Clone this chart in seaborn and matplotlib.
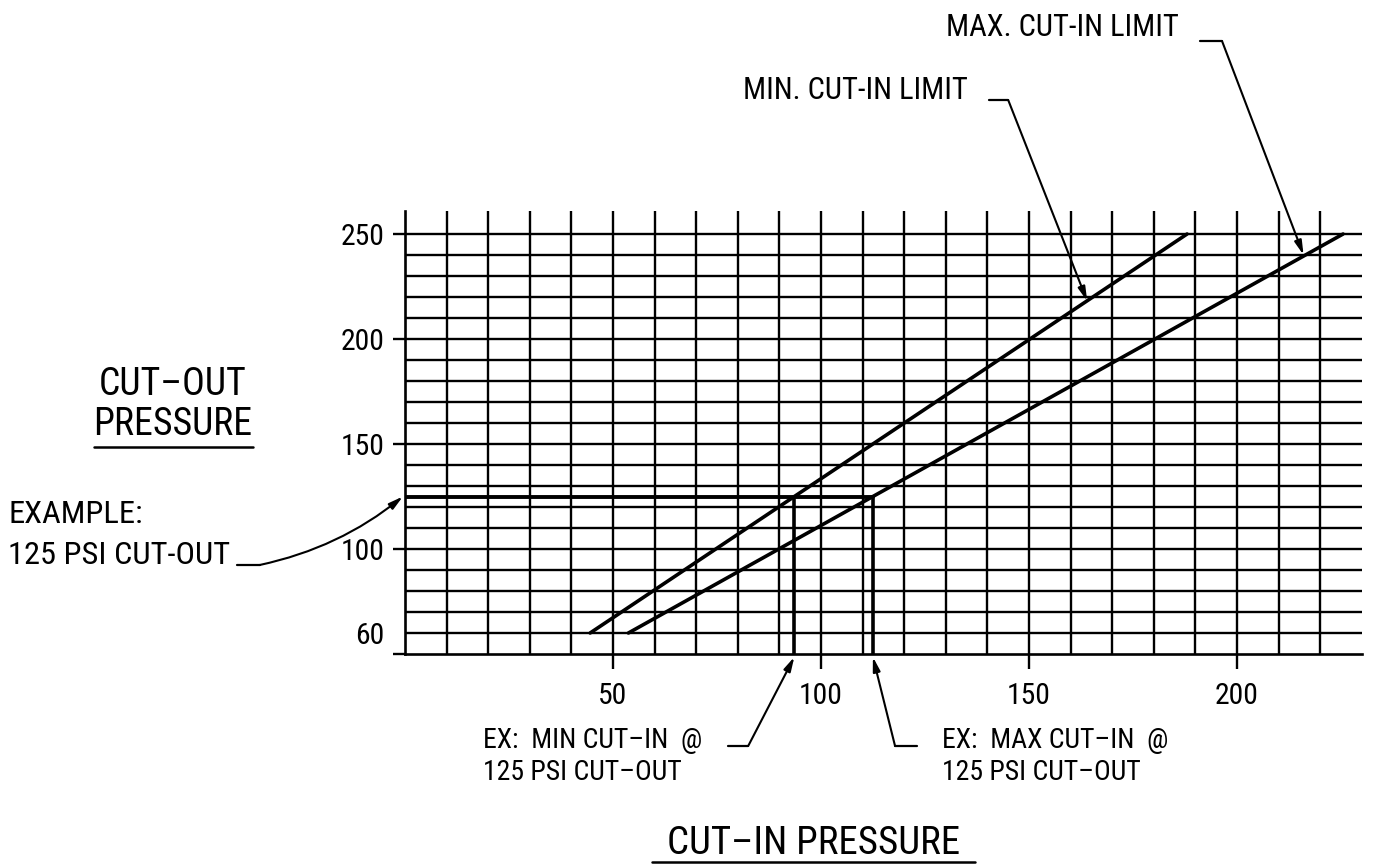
import matplotlib
matplotlib.use("Agg")
import matplotlib.pyplot as plt
import matplotlib.font_manager as fm
import seaborn as sns
import pandas as pd
import numpy as np

# ---- data ----
cutout_psi = [60, 250]                 # cut-out pressure at the ends of each limit line
min_cutin_psi = [44.5, 188.0]          # MIN. CUT-IN LIMIT line
max_cutin_psi = [53.7, 225.5]          # MAX. CUT-IN LIMIT line
example_cutout = 125                   # example cut-out pressure
x_tick_values = [50, 100, 150, 200]
y_tick_values = [50, 100, 150, 200, 250]
y_tick_labels = ["", "100", "150", "200", "250"]
y_extra_tick = [60]
grid_x = list(range(10, 230, 10))
grid_y = list(range(60, 260, 10))

sns.set_theme(style="white")

# pick a narrow sans font if one is installed
available = {f.name for f in fm.fontManager.ttflist}
condensed_names = [f.name for f in fm.fontManager.ttflist
                   if str(f.stretch) in ("condensed", "semi-condensed", "extra-condensed")
                   or (isinstance(f.stretch, (int, float)) and f.stretch < 500)]
preferred = ["Liberation Sans Narrow", "Roboto Condensed", "Noto Sans Condensed",
             "Open Sans Condensed", "DejaVu Sans Condensed"]
font = next((n for n in preferred if n in available), None)
stretch = "normal"
if font is None:
    for cand in ["DejaVu Sans", "Noto Sans", "Roboto", "Open Sans", "Liberation Sans"]:
        if cand in condensed_names:
            font, stretch = cand, "condensed"
            break
if font is None:
    font = "Liberation Sans" if "Liberation Sans" in available else "DejaVu Sans"
plt.rcParams['font.family'] = [font, 'DejaVu Sans']
plt.rcParams['font.stretch'] = stretch
plt.rcParams['axes.unicode_minus'] = False

fig = plt.figure(figsize=(13.74, 8.67), dpi=100)
fig.patch.set_facecolor("white")
ax = fig.add_axes([0.29476, 0.24567, 0.69636, 0.51107])
ax.set_facecolor("white")
ax.set_xlim(0, 230)
ax.set_ylim(50, 261)
renderer = fig.canvas.get_renderer()

def fit(texts, target_px, max_pt):
    w = texts[0].get_window_extent(renderer).width
    fs = min(texts[0].get_fontsize() * target_px / w, max_pt)
    for t in texts:
        t.set_fontsize(fs)
    return fs

LW = 1.7
# grid
ax.vlines(grid_x, 50, 261, color="black", lw=LW, clip_on=False, zorder=1)
ax.hlines(grid_y, 0, 230, color="black", lw=LW, clip_on=False, zorder=1)

for s in ["top", "right"]:
    ax.spines[s].set_visible(False)
for s in ["left", "bottom"]:
    ax.spines[s].set_color("black")
    ax.spines[s].set_linewidth(LW + 0.2)

# limit lines via seaborn
df = pd.DataFrame({
    "cut_in": min_cutin_psi + max_cutin_psi,
    "cut_out": cutout_psi + cutout_psi,
    "limit": ["MIN"] * len(cutout_psi) + ["MAX"] * len(cutout_psi),
})
sns.lineplot(data=df, x="cut_in", y="cut_out", hue="limit",
             palette=["black", "black"], lw=2.6, legend=False, ax=ax,
             sort=False, zorder=3)
ax.set_xlabel("")
ax.set_ylabel("")

# example construction
ex_min = np.interp(example_cutout, cutout_psi, min_cutin_psi)
ex_max = np.interp(example_cutout, cutout_psi, max_cutin_psi)
ax.plot([0, ex_max], [example_cutout, example_cutout], color="black", lw=2.8, zorder=3)
ax.plot([ex_min, ex_min], [example_cutout, 50], color="black", lw=2.6, zorder=3)
ax.plot([ex_max, ex_max], [example_cutout, 50], color="black", lw=2.6, zorder=3)

# tick label size: fit "250" to its width in the reference
probe = fig.text(0, 0, "250", fontsize=20)
tick_fs = fit([probe], 44, 23)
probe.remove()

ax.set_xticks(x_tick_values)
ax.set_xticklabels([str(v) for v in x_tick_values])
ax.set_yticks(y_tick_values)
ax.set_yticklabels(y_tick_labels)
ax.set_yticks(y_extra_tick, minor=True)
ax.set_yticklabels([str(v) for v in y_extra_tick], minor=True)
ax.tick_params(axis="x", bottom=True, direction="out", length=11, width=LW,
               color="black", pad=9, labelsize=tick_fs, labelcolor="black")
ax.tick_params(axis="y", which="major", left=True, direction="out", length=9, width=LW,
               color="black", pad=6, labelsize=tick_fs, labelcolor="black")
ax.tick_params(axis="y", which="minor", left=True, length=0, pad=15,
               labelsize=tick_fs, labelcolor="black")

arrow = dict(arrowstyle="-|>,head_length=0.7,head_width=0.18", color="black",
             lw=1.5, shrinkA=0, shrinkB=0)

def txt(x, y, s, ha="left"):
    return ax.text(x, y, s, ha=ha, va="center", fontsize=20, color="black", clip_on=False)

def leader(h0, h1, hy, tip, rad=0.0):
    ax.plot([h0, h1], [hy, hy], color="black", lw=1.6, clip_on=False)
    start = (h1, hy) if abs(h1 - tip[0]) < abs(h0 - tip[0]) else (h0, hy)
    ax.annotate("", xy=tip, xytext=start,
                arrowprops=dict(arrow, connectionstyle=f"arc3,rad={rad}"),
                annotation_clip=False)

# top labels
fit([txt(186.1, 348.1, "MAX. CUT-IN LIMIT", "right")], 246, 22)
leader(191.1, 196.4, 341.9, (216, 240))
fit([txt(135.3, 318.1, "MIN. CUT-IN LIMIT", "right")], 232, 22)
leader(140.4, 145.0, 313.8, (164, 218))

# left labels
t1 = txt(-55.8, 178.1, "CUT\u2013OUT", "center")
t2 = txt(-55.8, 159.5, "PRESSURE", "center")
fit([t2, t1], 159, 33)
ax.plot([-74.8, -36.5], [148.6, 148.6], color="black", lw=1.8, clip_on=False)

t3 = txt(-95.4, 116.2, "EXAMPLE:")
t4 = txt(-95.4, 96.7, "125 PSI CUT-OUT")
fit([t4, t3], 222, 25)
leader(-40.4, -34.9, 92.4, (-0.5, 125), rad=0.12)

# bottom labels
b1 = txt(18.75, 8.6, "EX:  MIN CUT\u2013IN  @")
b2 = txt(18.75, -6.2, "125 PSI CUT\u2013OUT")
b3 = txt(129.1, 8.6, "EX:  MAX CUT\u2013IN  @")
b4 = txt(129.1, -6.2, "125 PSI CUT\u2013OUT")
fit([b1, b2, b3, b4], 229, 20)
leader(77.6, 82.5, 6.2, (ex_min, 48.6))
leader(117.8, 123.0, 6.2, (ex_max, 48.6))

c1 = txt(98.1, -40.0, "CUT\u2013IN PRESSURE", "center")
fit([c1], 323, 28)
ax.plot([59.4, 137.0], [-49.0, -49.0], color="black", lw=1.8, clip_on=False)

fig.savefig("out.png", dpi=100, facecolor="white")
